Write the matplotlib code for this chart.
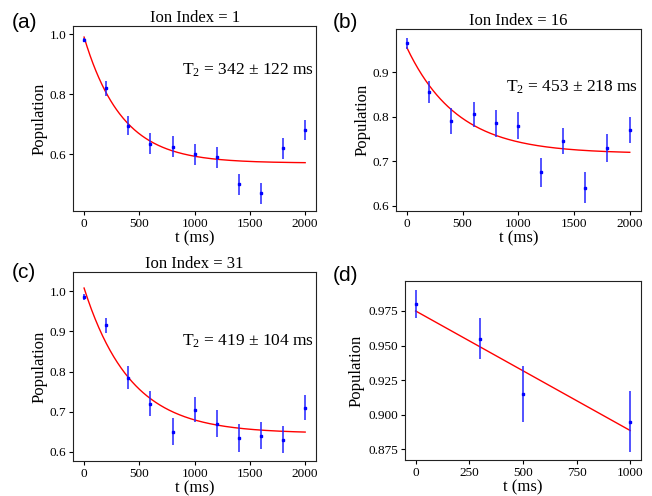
import numpy as np
import matplotlib
matplotlib.use("Agg")
import matplotlib.pyplot as plt

plt.rcParams['font.family'] = ['Liberation Serif', 'DejaVu Serif']
plt.rcParams['mathtext.default'] = 'regular'

# data
t = [0, 200, 400, 600, 800, 1000, 1200, 1400, 1600, 1800, 2000]

pop_a = [0.98, 0.82, 0.695, 0.635, 0.625, 0.60, 0.59, 0.50, 0.47, 0.62, 0.68]
err_a = [0.006, 0.025, 0.032, 0.035, 0.034, 0.035, 0.035, 0.035, 0.035, 0.035, 0.032]
fit_a = (0.42, 342, 0.57)   # A, T2, C

pop_b = [0.965, 0.855, 0.79, 0.805, 0.785, 0.78, 0.675, 0.745, 0.64, 0.73, 0.77]
err_b = [0.012, 0.025, 0.03, 0.028, 0.03, 0.03, 0.033, 0.03, 0.035, 0.031, 0.03]
fit_b = (0.238, 453, 0.717)

pop_c = [0.985, 0.915, 0.785, 0.72, 0.65, 0.705, 0.67, 0.635, 0.64, 0.63, 0.71]
err_c = [0.008, 0.018, 0.029, 0.032, 0.034, 0.032, 0.034, 0.035, 0.034, 0.034, 0.032]
fit_c = (0.362, 419, 0.646)

t_d = [0, 300, 500, 1000]
pop_d = [0.98, 0.955, 0.915, 0.895]
err_d = [0.01, 0.015, 0.02, 0.022]
fit_d = (0.975, -8.64e-5)   # intercept, slope

titles = ['Ion Index = 1', 'Ion Index = 16', 'Ion Index = 31']
t2_text = ['T$_2$ = 342 ± 122 ms', 'T$_2$ = 453 ± 218 ms', 'T$_2$ = 419 ± 104 ms']

fig = plt.figure(figsize=(6.52, 4.96), dpi=100)

ax_a = fig.add_axes([0.112, 0.5746, 0.373, 0.373])
ax_b = fig.add_axes([0.607, 0.5746, 0.376, 0.367])
ax_c = fig.add_axes([0.112, 0.0706, 0.373, 0.381])
ax_d = fig.add_axes([0.621, 0.0726, 0.362, 0.361])

def draw(ax, x, y, e, lp):
    ax.errorbar(x, y, yerr=e, fmt='s', color='b', ms=1.8, ecolor=(0.15, 0.15, 1.0, 0.8),
                elinewidth=1.4, capsize=0, zorder=3)
    ax.set_xlabel('t (ms)', fontsize=12, labelpad=0)
    ax.set_ylabel('Population', fontsize=12, labelpad=lp)
    ax.tick_params(labelsize=9.5, length=3, pad=2)
    for s in ax.spines.values():
        s.set_color('#222222')

tt = np.linspace(0, 2000, 300)
for ax, y, e, fit, ttl, txt, ty in [
        (ax_a, pop_a, err_a, fit_a, titles[0], t2_text[0], 0.76),
        (ax_b, pop_b, err_b, fit_b, titles[1], t2_text[1], 0.68),
        (ax_c, pop_c, err_c, fit_c, titles[2], t2_text[2], 0.635)]:
    A, T2, C = fit
    ax.plot(tt, A * np.exp(-tt / T2) + C, color='r', lw=1)
    draw(ax, t, y, e, 1.5)
    ax.set_title(ttl, fontsize=12, pad=3)
    ax.text(0.99, ty, txt, transform=ax.transAxes, ha='right', va='center', fontsize=12.5)
    ax.set_xlim(-100, 2100)
    ax.set_xticks([0, 500, 1000, 1500, 2000])

ax_a.set_ylim(0.41, 1.027)
ax_a.set_yticks([0.6, 0.8, 1.0])
ax_b.set_ylim(0.588, 0.997)
ax_b.set_yticks([0.6, 0.7, 0.8, 0.9])
ax_c.set_ylim(0.577, 1.048)
ax_c.set_yticks([0.6, 0.7, 0.8, 0.9, 1.0])

td = np.linspace(0, 1000, 50)
ax_d.plot(td, fit_d[0] + fit_d[1] * td, color='r', lw=1)
draw(ax_d, t_d, pop_d, err_d, 2.5)
ax_d.set_xlim(-50, 1050)
ax_d.set_xticks([0, 250, 500, 750, 1000])
ax_d.set_ylim(0.8673, 0.9967)
ax_d.set_yticks([0.875, 0.9, 0.925, 0.95, 0.975])
ax_d.yaxis.set_major_formatter(matplotlib.ticker.FormatStrFormatter('%.3f'))

for lbl, x, y in [('(a)', 0.018, 0.955), ('(b)', 0.51, 0.955), ('(c)', 0.018, 0.45), ('(d)', 0.51, 0.445)]:
    fig.text(x, y, lbl, fontsize=15, family=['Liberation Sans', 'DejaVu Sans'], va='center')

fig.savefig('out.png', dpi=100)
